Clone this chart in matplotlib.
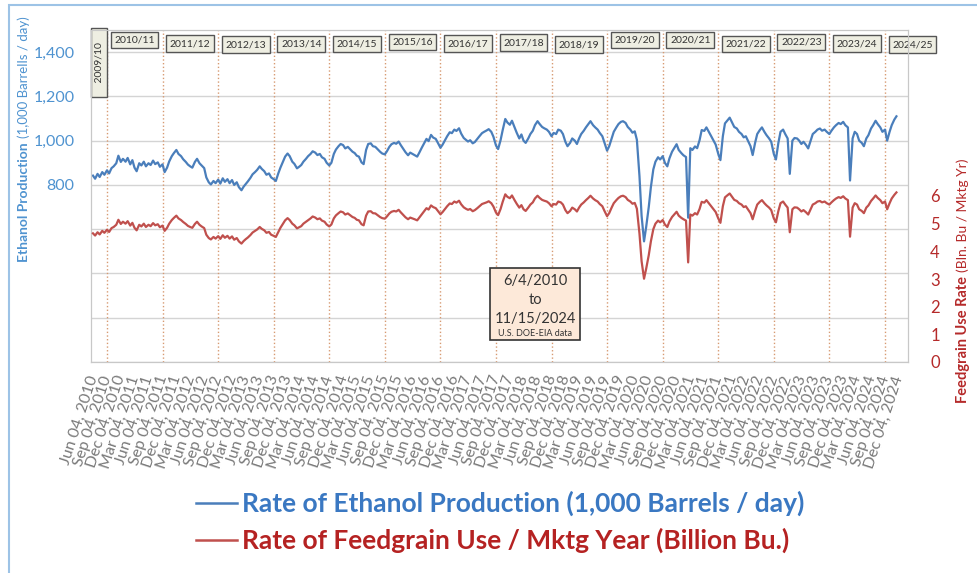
import numpy as np
import pandas as pd
import matplotlib
matplotlib.use("Agg")
import matplotlib.pyplot as plt
from matplotlib.patches import Rectangle
from matplotlib.lines import Line2D
from matplotlib.ticker import FuncFormatter
from datetime import datetime

plt.rcParams['font.family'] = ['Lato', 'DejaVu Sans']

# readings on the 1st and 15th of each month, Jun 2010 .. Nov 15 2024
dates = pd.date_range('2010-06-01', '2024-11-15', freq='SMS')

# ethanol production, 1,000 barrels / day
eth_2010 = [842, 828, 850, 836, 858, 846, 866, 852, 876, 884, 898, 932, 904, 918]
eth_2011 = [905, 922, 893, 912, 878, 862, 898, 888, 905, 884, 898, 890, 910, 894, 902, 882, 893, 858, 878, 906, 930, 944, 958, 940]
eth_2012 = [930, 916, 904, 892, 884, 878, 904, 918, 898, 888, 876, 834, 812, 802, 818, 808, 824, 806, 830, 814, 826, 808, 822, 800]
eth_2013 = [812, 790, 776, 792, 804, 816, 832, 848, 858, 868, 884, 872, 862, 846, 852, 834, 826, 818, 852, 878, 906, 928, 942, 930]
eth_2014 = [905, 895, 875, 882, 890, 905, 918, 930, 940, 952, 946, 935, 940, 925, 918, 900, 888, 900, 940, 960, 975, 985, 980, 965]
eth_2015 = [972, 962, 950, 944, 932, 928, 902, 894, 958, 985, 988, 975, 972, 962, 950, 942, 938, 952, 972, 984, 990, 986, 996, 980]
eth_2016 = [962, 948, 934, 946, 940, 934, 928, 946, 968, 986, 1008, 998, 1026, 1014, 1008, 990, 968, 982, 1002, 1020, 1038, 1034, 1050, 1044]
eth_2017 = [1056, 1032, 1012, 1004, 996, 1002, 988, 994, 1008, 1020, 1034, 1040, 1046, 1052, 1040, 1018, 978, 962, 1002, 1048, 1098, 1082, 1072, 1090]
eth_2018 = [1060, 1036, 1010, 1028, 1000, 990, 1010, 1030, 1045, 1070, 1088, 1075, 1062, 1056, 1050, 1040, 1020, 1035, 1030, 1050, 1045, 1030, 995, 975]
eth_2019 = [990, 1010, 1000, 985, 1010, 1030, 1045, 1060, 1075, 1088, 1070, 1060, 1050, 1035, 1020, 990, 955, 975, 1010, 1040, 1060, 1075, 1085, 1088]
eth_2020 = [1080, 1062, 1050, 1036, 1042, 1004, 840, 660, 545, 610, 700, 790, 870, 905, 925, 915, 930, 900, 884, 920, 950, 966, 984, 958]
eth_2021 = [944, 934, 926, 652, 966, 958, 974, 966, 1002, 1048, 1044, 1060, 1040, 1022, 1000, 982, 940, 912, 1020, 1078, 1092, 1104, 1082, 1062]
eth_2022 = [1055, 1040, 1030, 1015, 1020, 1000, 975, 935, 990, 1030, 1048, 1060, 1040, 1025, 1010, 995, 940, 915, 990, 1040, 1050, 1030, 1010, 850]
eth_2023 = [1000, 1012, 1010, 1000, 985, 995, 980, 965, 1000, 1030, 1040, 1050, 1055, 1045, 1050, 1040, 1030, 1045, 1060, 1070, 1080, 1075, 1085, 1070]
eth_2024 = [1060, 820, 1010, 1040, 1030, 1000, 990, 975, 1010, 1025, 1055, 1070, 1090, 1075, 1060, 1040, 1050, 1000, 1040, 1070, 1095, 1110]

# feedgrain use rate, billion bushels / marketing year
fg_2010 = [4.65, 4.57, 4.69, 4.61, 4.74, 4.67, 4.78, 4.70, 4.84, 4.88, 4.96, 5.14, 4.99, 5.07]
fg_2011 = [5.00, 5.09, 4.93, 5.03, 4.85, 4.76, 4.96, 4.90, 5.00, 4.88, 4.96, 4.91, 5.02, 4.94, 4.98, 4.87, 4.93, 4.74, 4.85, 5.00, 5.13, 5.21, 5.29, 5.19]
fg_2012 = [5.13, 5.06, 4.99, 4.92, 4.88, 4.85, 4.99, 5.07, 4.96, 4.90, 4.84, 4.60, 4.48, 4.43, 4.52, 4.46, 4.55, 4.45, 4.58, 4.49, 4.56, 4.46, 4.54, 4.42]
fg_2013 = [4.48, 4.36, 4.28, 4.37, 4.44, 4.50, 4.59, 4.68, 4.74, 4.79, 4.88, 4.81, 4.76, 4.67, 4.70, 4.60, 4.56, 4.52, 4.70, 4.85, 5.00, 5.12, 5.20, 5.13]
fg_2014 = [5.00, 4.94, 4.83, 4.87, 4.91, 5.00, 5.07, 5.13, 5.19, 5.26, 5.22, 5.16, 5.19, 5.11, 5.07, 4.97, 4.90, 4.97, 5.19, 5.30, 5.38, 5.44, 5.41, 5.33]
fg_2015 = [5.37, 5.31, 5.24, 5.21, 5.14, 5.12, 4.98, 4.94, 5.29, 5.44, 5.45, 5.38, 5.37, 5.31, 5.24, 5.20, 5.18, 5.26, 5.37, 5.43, 5.46, 5.44, 5.50, 5.41]
fg_2016 = [5.31, 5.23, 5.16, 5.22, 5.19, 5.16, 5.12, 5.22, 5.34, 5.44, 5.56, 5.51, 5.66, 5.60, 5.56, 5.46, 5.34, 5.42, 5.53, 5.63, 5.73, 5.71, 5.80, 5.76]
fg_2017 = [5.83, 5.70, 5.59, 5.54, 5.50, 5.53, 5.45, 5.49, 5.56, 5.63, 5.71, 5.74, 5.77, 5.81, 5.74, 5.62, 5.40, 5.31, 5.53, 5.79, 6.06, 5.97, 5.92, 6.02]
fg_2018 = [5.85, 5.72, 5.58, 5.67, 5.52, 5.46, 5.58, 5.69, 5.77, 5.91, 6.01, 5.93, 5.86, 5.83, 5.80, 5.74, 5.63, 5.71, 5.69, 5.80, 5.77, 5.69, 5.49, 5.38]
fg_2019 = [5.46, 5.58, 5.52, 5.44, 5.58, 5.69, 5.77, 5.85, 5.93, 6.01, 5.91, 5.85, 5.80, 5.71, 5.63, 5.46, 5.27, 5.38, 5.58, 5.74, 5.85, 5.93, 5.99, 6.01]
fg_2020 = [5.96, 5.86, 5.80, 5.72, 5.75, 5.54, 4.64, 3.64, 3.01, 3.37, 3.86, 4.36, 4.80, 5.00, 5.11, 5.05, 5.13, 4.97, 4.88, 5.08, 5.24, 5.33, 5.43, 5.29]
fg_2021 = [5.21, 5.16, 5.11, 3.60, 5.33, 5.29, 5.38, 5.33, 5.53, 5.79, 5.76, 5.85, 5.74, 5.64, 5.52, 5.42, 5.19, 5.03, 5.63, 5.95, 6.03, 6.09, 5.97, 5.86]
fg_2022 = [5.82, 5.74, 5.69, 5.60, 5.63, 5.52, 5.38, 5.16, 5.46, 5.69, 5.79, 5.85, 5.74, 5.66, 5.58, 5.49, 5.19, 5.05, 5.46, 5.74, 5.80, 5.69, 5.58, 4.69]
fg_2023 = [5.52, 5.59, 5.58, 5.52, 5.44, 5.49, 5.41, 5.33, 5.52, 5.69, 5.74, 5.80, 5.82, 5.77, 5.80, 5.74, 5.69, 5.77, 5.85, 5.91, 5.96, 5.93, 5.99, 5.91]
fg_2024 = [5.85, 4.53, 5.58, 5.74, 5.69, 5.52, 5.46, 5.38, 5.58, 5.66, 5.82, 5.91, 6.02, 5.93, 5.85, 5.74, 5.80, 5.52, 5.74, 5.91, 6.04, 6.13]

ethanol = (eth_2010 + eth_2011 + eth_2012 + eth_2013 + eth_2014 + eth_2015 + eth_2016 + eth_2017
           + eth_2018 + eth_2019 + eth_2020 + eth_2021 + eth_2022 + eth_2023 + eth_2024)
feedgrain = (fg_2010 + fg_2011 + fg_2012 + fg_2013 + fg_2014 + fg_2015 + fg_2016 + fg_2017
             + fg_2018 + fg_2019 + fg_2020 + fg_2021 + fg_2022 + fg_2023 + fg_2024)

# marketing years start Sep 1
mktg_years = list(range(2010, 2025))
mktg_labels = [f'{y}/{str(y + 1)[2:]}' for y in mktg_years]
label_y = [1454, 1439, 1434, 1438, 1436, 1447, 1439, 1443, 1434, 1455, 1456, 1436, 1447, 1439, 1434]

tick_dates = [pd.Timestamp('2010-06-04') + pd.DateOffset(months=3 * i) for i in range(59)]
tick_labels = [d.strftime('%b %d, %Y') for d in tick_dates]

BLUE = '#4a7ebb'
RED = '#c0504d'
BLUE_TXT = '#4f93d0'
RED_TXT = '#b52a2a'

fig = plt.figure(figsize=(9.77, 5.73), dpi=100)
ax = fig.add_axes([91 / 977, 1 - 362 / 573, 817 / 977, 332 / 573])
ax2 = ax.twinx()

ax.plot(dates.to_pydatetime(), ethanol, color=BLUE, lw=1.6, zorder=3)
ax2.plot(dates.to_pydatetime(), feedgrain, color=RED, lw=1.6, zorder=3)

ax.set_xlim(datetime(2010, 5, 19), datetime(2025, 1, 30))
ax.set_ylim(0, 1500)
ax2.set_ylim(0, 12)

ax.set_yticks(range(0, 1401, 200))
ax.yaxis.set_major_formatter(FuncFormatter(lambda v, p: f'{v:,.0f}' if v >= 800 else ''))
ax.grid(axis='y', color='#d4d4d4', lw=1)
ax.set_axisbelow(True)
ax.tick_params(axis='y', length=0, pad=12, labelsize=11.5, labelcolor=BLUE_TXT)

ax2.set_yticks(range(0, 7))
ax2.tick_params(axis='y', length=0, pad=16, labelsize=12, labelcolor=RED_TXT)

ax.set_xticks(tick_dates)
ax.set_xticklabels(tick_labels, rotation=72, ha='right', va='center',
                   rotation_mode='anchor', fontsize=11.5, color='#7a7a7a')
ax.tick_params(axis='x', length=0, pad=10)

for a in (ax, ax2):
    for s in a.spines.values():
        s.set_color('#c8c8c8')

for y in mktg_years:
    ax.axvline(datetime(y, 9, 1), color='#d79a72', lw=1, ls=':', zorder=2)

box = dict(boxstyle='square,pad=0.35', fc='#eeeee2', ec='#555555', lw=1)
for y, lab, ly in zip(mktg_years, mktg_labels, label_y):
    ax.text(datetime(y + 1, 3, 1), ly, lab, ha='center', va='center', fontsize=7.5,
            color='#333333', bbox=box, clip_on=False, zorder=5)
ax.text(datetime(2010, 7, 10), 1353, '    2009/10    ', rotation=90, ha='center', va='center',
        fontsize=7.5, color='#333333', bbox=box, zorder=5)

# date range note
fig.add_artist(Rectangle((490 / 977, 1 - 340 / 573), 90 / 977, 72 / 573,
                         transform=fig.transFigure, fc='#fde9d9', ec='#333333', lw=1.2))
for txt, yy, fs in [('6/4/2010', 281, 10.5), ('to', 300, 10.5),
                    ('11/15/2024', 319, 10.5), ('U.S. DOE-EIA data', 334, 6.5)]:
    fig.text(535 / 977, 1 - yy / 573, txt, ha='center', va='center', fontsize=fs, color='#333333')

# axis titles, bold part + plain part
fig.canvas.draw()
r = fig.canvas.get_renderer()
t1 = fig.text(24 / 977, 1 - 262 / 573, 'Ethanol Production', rotation=90, rotation_mode='anchor',
              ha='left', va='center', fontsize=10, fontweight='bold', color=BLUE_TXT)
bb = t1.get_window_extent(r)
fig.text(24 / 977, (bb.y1 + 4) / 573, '(1,000 Barrells / day)', rotation=90, rotation_mode='anchor',
         ha='left', va='center', fontsize=9.5, color=BLUE_TXT)
t2 = fig.text(963 / 977, 1 - 403 / 573, 'Feedgrain Use Rate', rotation=90, rotation_mode='anchor',
              ha='left', va='center', fontsize=10.5, fontweight='bold', color=RED_TXT)
bb = t2.get_window_extent(r)
fig.text(963 / 977, (bb.y1 + 4) / 573, '(Bln. Bu / Mktg Yr)', rotation=90, rotation_mode='anchor',
         ha='left', va='center', fontsize=10, color=RED_TXT)

handles = [Line2D([], [], color=BLUE, lw=1.8), Line2D([], [], color=RED, lw=1.8)]
leg = fig.legend(handles, ['Rate of Ethanol Production (1,000 Barrels / day)',
                           'Rate of Feedgrain Use / Mktg Year (Billion Bu.)'],
                 loc='center left', bbox_to_anchor=(196 / 977, 1 - 522 / 573), frameon=False,
                 prop={'size': 19, 'weight': 'bold'}, handlelength=1.55, handletextpad=0.2,
                 labelspacing=0.45, borderpad=0, borderaxespad=0)
for t, c in zip(leg.get_texts(), ['#3a78c2', '#b52222']):
    t.set_color(c)

# light blue frame around the whole chart
fig.add_artist(Rectangle((9 / 977, -0.05), 1.0, 1 - 5 / 573 + 0.05, transform=fig.transFigure,
                         fill=False, ec='#9dc3e6', lw=1.5))

fig.savefig('out.png', dpi=100)
